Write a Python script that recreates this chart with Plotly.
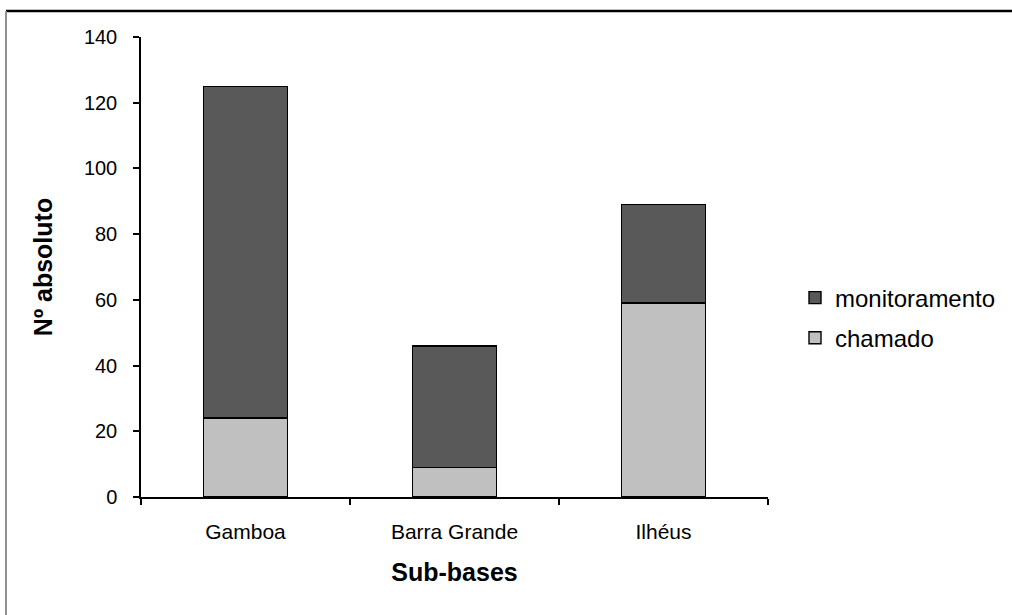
import plotly.graph_objects as go

categories = ["Gamboa", "Barra Grande", "Ilhéus"]
chamado = [24, 9, 59]
monitoramento = [101, 37, 30]

FONT = "Liberation Sans, Arial, sans-serif"

fig = go.Figure()
fig.add_trace(go.Bar(x=categories, y=chamado, name="chamado", legendgroup="c", legendrank=2,
                     marker=dict(color="#c0c0c0", line=dict(color="#000000", width=1.4))))
fig.add_trace(go.Bar(x=categories, y=monitoramento, name="monitoramento", legendgroup="m", legendrank=1,
                     marker=dict(color="#595959", line=dict(color="#000000", width=1.4))))

def px_x(px):
    return (px - 141) / 627.0

def px_y(py):
    return (497 - py) / 460.0

fig.update_layout(
    width=1012, height=615,
    barmode="stack", bargap=0.6,
    paper_bgcolor="white", plot_bgcolor="white",
    margin=dict(l=141, r=244, t=37, b=118, autoexpand=False),
    font=dict(family=FONT, color="#000000", size=20),
    showlegend=True,
    legend=dict(x=px_x(795), y=px_y(318), xanchor="left", yanchor="middle",
                traceorder="grouped", font=dict(size=24, family=FONT),
                bgcolor="rgba(0,0,0,0)", tracegroupgap=6, itemwidth=30),
    xaxis=dict(showline=True, linecolor="#000000", linewidth=1.5,
               ticks="outside", tickson="boundaries", ticklen=6, tickcolor="#000000",
               tickwidth=1.5, showgrid=False, ticklabelstandoff=15,
               tickfont=dict(size=21, family=FONT),
               title=dict(text="<b>Sub-bases</b>", font=dict(size=25, family=FONT), standoff=22)),
    yaxis=dict(range=[0, 140], dtick=20, showline=True, linecolor="#000000", linewidth=1.5,
               ticks="outside", ticklen=6, tickcolor="#000000", tickwidth=1.5,
               showgrid=False, zeroline=False, ticklabelstandoff=12,
               tickfont=dict(size=20, family=FONT),
               title=dict(text="<b>Nº absoluto</b>", font=dict(size=25, family=FONT), standoff=24)),
    shapes=[
        dict(type="line", xref="paper", yref="paper",
             x0=px_x(6), x1=px_x(1012), y0=px_y(11), y1=px_y(11),
             line=dict(color="#000000", width=2.5)),
        dict(type="line", xref="paper", yref="paper",
             x0=px_x(6), x1=px_x(6), y0=px_y(11), y1=px_y(615),
             line=dict(color="#909090", width=2)),
    ],
)

fig.write_html("out.html", config={"displayModeBar": False},
               post_script="document.body.style.margin='0';")
